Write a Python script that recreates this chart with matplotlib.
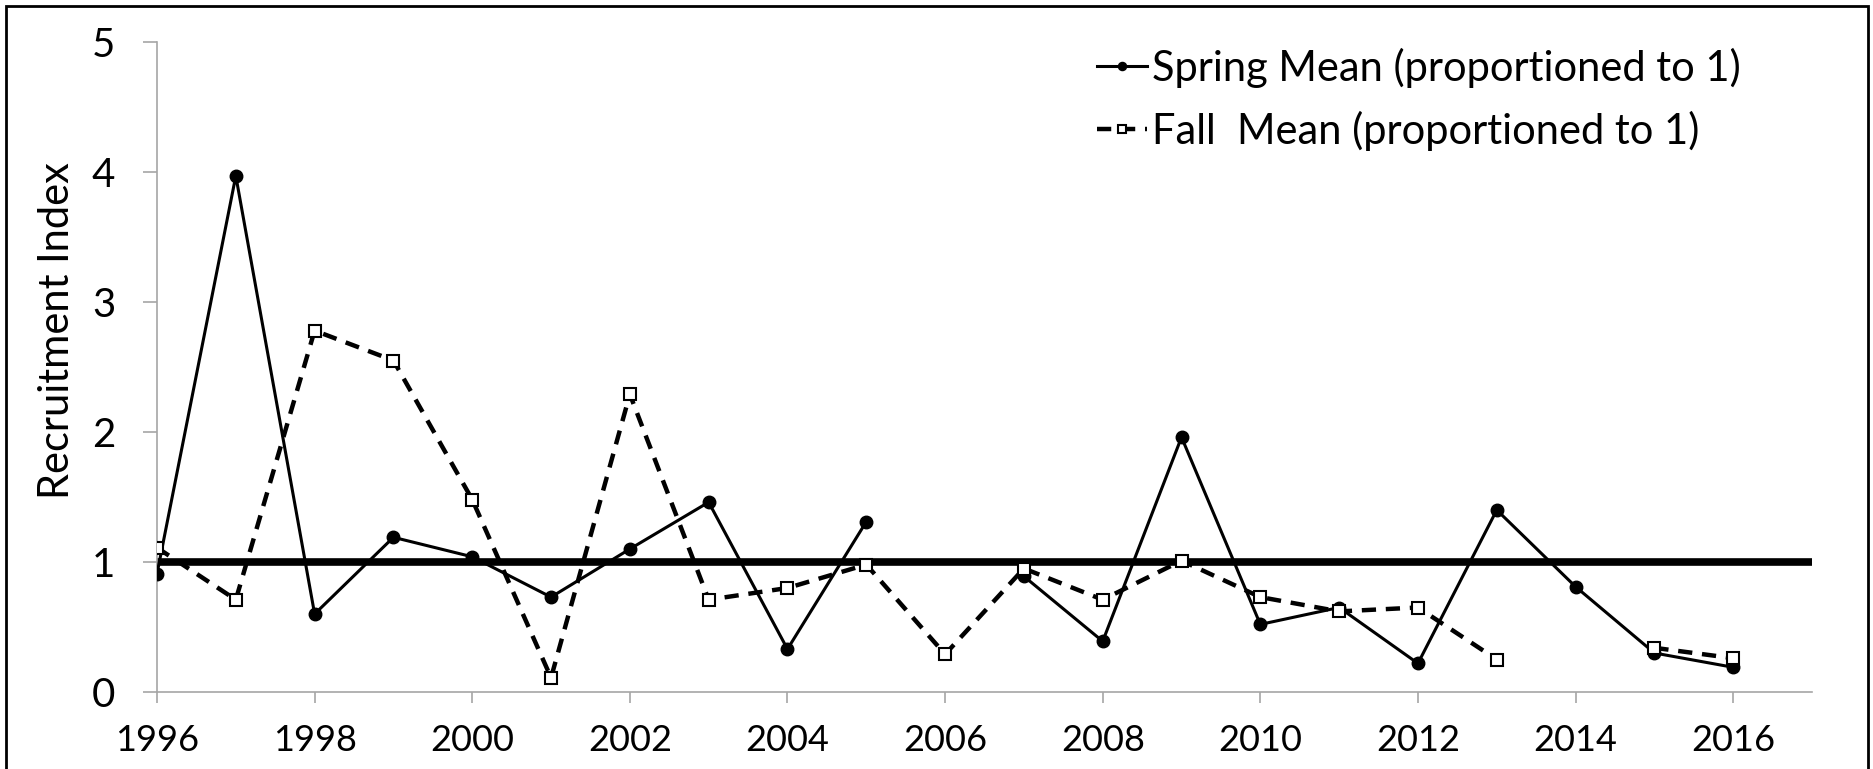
import numpy as np
import matplotlib
matplotlib.use("Agg")
import matplotlib.pyplot as plt
from matplotlib.patches import Rectangle

plt.rcParams['font.family'] = ['Lato', 'DejaVu Sans']

years = list(range(1996, 2017))
spring = [0.91, 3.97, 0.60, 1.19, 1.04, 0.73, 1.10, 1.46, 0.33, 1.31, np.nan,
          0.89, 0.39, 1.96, 0.52, 0.65, 0.22, 1.40, 0.81, 0.30, 0.19]
fall = [1.11, 0.71, 2.78, 2.55, 1.48, 0.11, 2.29, 0.71, 0.80, 0.98, 0.29,
        0.95, 0.71, 1.01, 0.73, 0.62, 0.65, 0.25, np.nan, 0.34, 0.26]
ref_level = 1.0
xticks = list(range(1996, 2017, 2))
yticks = [0, 1, 2, 3, 4, 5]

W, H = 1873, 769
fig = plt.figure(figsize=(W / 100, H / 100), dpi=100)
ax = fig.add_axes([157 / W, 77 / H, 1655 / W, 650 / H])

ax.axhline(ref_level, color='black', lw=5.5, zorder=2)
ax.plot(years, spring, color='black', lw=2.2, marker='o', ms=9,
        mfc='black', mec='black', label='Spring Mean (proportioned to 1)', zorder=3)
ax.plot(years, fall, color='black', lw=3.2, ls=(0, (3.2, 2.2)), marker='s', ms=9,
        mfc='white', mec='black', mew=1.5, label='Fall  Mean (proportioned to 1)', zorder=4)

ax.set_xlim(1996, 2017)
ax.set_ylim(0, 5)
ax.set_xticks(xticks)
ax.set_yticks(yticks)
ax.tick_params(axis='x', labelsize=26, length=8, width=1.2, color='#a6a6a6', direction='out', pad=15)
ax.tick_params(axis='y', labelsize=29, length=10, width=1.2, color='#a6a6a6', direction='out', pad=20)
for s in ['top', 'right']:
    ax.spines[s].set_visible(False)
for s in ['left', 'bottom']:
    ax.spines[s].set_color('#a6a6a6')
    ax.spines[s].set_linewidth(1.2)
ax.set_ylabel('Recruitment Index', fontsize=30)
ax.yaxis.set_label_coords(-0.049, 0.556)

leg = ax.legend(loc='upper left', bbox_to_anchor=(0.558, 1.017), frameon=False, fontsize=30,
                handlelength=1.2, handletextpad=0.12, markerscale=0.65, labelspacing=0.55,
                borderaxespad=0.0)

fig.patches.append(Rectangle((6 / W, -0.05), (1868 - 6) / W, 1.05 - 6 / H, transform=fig.transFigure,
                             fill=False, edgecolor='black', lw=2, zorder=10))

fig.savefig('out.png', dpi=100)
